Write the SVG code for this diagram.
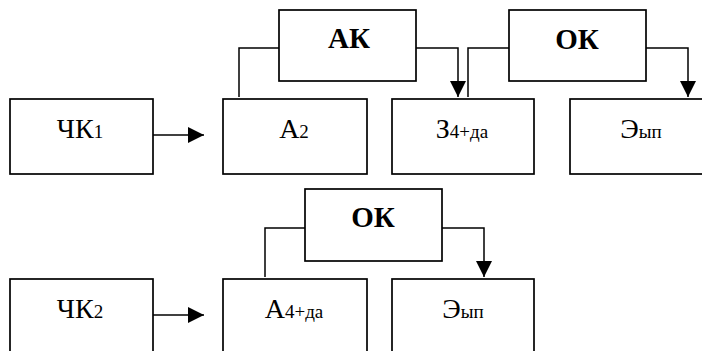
<svg xmlns="http://www.w3.org/2000/svg" width="702" height="351" viewBox="0 0 702 351">
<style>
.box{fill:#fff;stroke:#000;stroke-width:1.7}
.ln{fill:none;stroke:#000;stroke-width:1.5}
.t{font-family:'Liberation Serif','Times New Roman',serif;font-size:28px;fill:#000;text-anchor:middle}
.b{font-weight:bold;font-size:29px}
.s{font-size:19px}
</style>
<defs>
<marker id="ah" markerUnits="userSpaceOnUse" markerWidth="16" markerHeight="16" viewBox="0 0 16 16" refX="16" refY="8" orient="auto">
<path d="M0,0 L16,8 L0,16 Z" fill="#000"/>
</marker>
</defs>
<g id="connectors">
<line class="ln" x1="153" y1="135" x2="204" y2="135" marker-end="url(#ah)"/>
<polyline class="ln" points="239,97 239,48 279,48"/>
<polyline class="ln" points="416,48 458,48 458,97" marker-end="url(#ah)"/>
<polyline class="ln" points="509,48 468,48 468,97"/>
<polyline class="ln" points="646,48 688,48 688,97" marker-end="url(#ah)"/>
<line class="ln" x1="153" y1="315" x2="204" y2="315" marker-end="url(#ah)"/>
<polyline class="ln" points="265,277 265,228 305,228"/>
<polyline class="ln" points="442,228 484,228 484,277" marker-end="url(#ah)"/>
</g>
<g id="chk1"><rect class="box" x="10" y="99" width="143" height="75"/><text class="t" x="80" y="138">ЧК<tspan class="s">1</tspan></text></g>
<g id="a2"><rect class="box" x="223" y="99" width="144" height="75"/><text class="t" x="294" y="138">А<tspan class="s">2</tspan></text></g>
<g id="z4"><rect class="box" x="392" y="99" width="142" height="75"/><text class="t" x="462" y="138">З<tspan class="s">4+да</tspan></text></g>
<g id="eyp1"><rect class="box" x="570" y="99" width="142" height="75"/><text class="t" x="641" y="138">Э<tspan class="s">ып</tspan></text></g>
<g id="ak"><rect class="box" x="279" y="10" width="137" height="71"/><text class="t b" x="349" y="48">АК</text></g>
<g id="ok1"><rect class="box" x="509" y="10" width="137" height="71"/><text class="t b" x="577" y="49">ОК</text></g>
<g id="chk2"><rect class="box" x="10" y="279" width="143" height="80"/><text class="t" x="80" y="318">ЧК<tspan class="s">2</tspan></text></g>
<g id="a4"><rect class="box" x="223" y="279" width="144" height="80"/><text class="t" x="294" y="318">А<tspan class="s">4+да</tspan></text></g>
<g id="eyp2"><rect class="box" x="392" y="279" width="142" height="80"/><text class="t" x="463" y="318">Э<tspan class="s">ып</tspan></text></g>
<g id="ok2"><rect class="box" x="305" y="189" width="137" height="72"/><text class="t b" x="373" y="227">ОК</text></g>
</svg>
